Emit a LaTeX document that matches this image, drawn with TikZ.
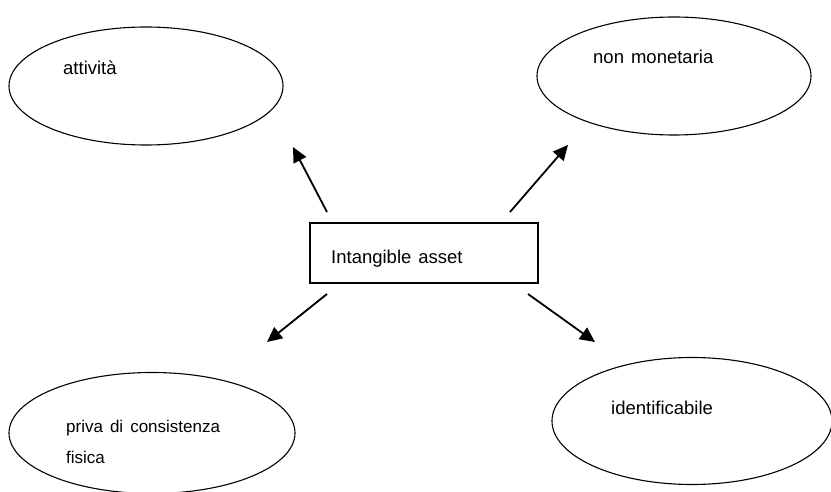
\documentclass[tikz,border=0pt]{standalone}
\usepackage{fontspec}
\setmainfont{Liberation Sans}
\usetikzlibrary{arrows.meta,shapes.geometric}
\newcommand\wordgap{\spaceskip=7pt\relax}

\begin{document}
\begin{tikzpicture}[x=1pt,y=-1pt,>={Triangle[length=15pt,width=14pt]},
      oval/.style={ellipse,draw,line width=1.1pt,inner sep=0pt},
      lbl/.style={anchor=base west,inner sep=0pt,font=\fontsize{18.5}{22}\selectfont\wordgap},
      smalllbl/.style={lbl,font=\fontsize{17}{20}\selectfont\wordgap}]
      \useasboundingbox (0,0) rectangle (831,492);
      % the four ovals
      \node[oval,minimum width=274pt,minimum height=118pt] (att) at (146,86) {};
      \node[oval,minimum width=274pt,minimum height=118pt] (nonmon) at (674,76) {};
      \node[oval,minimum width=286pt,minimum height=121pt] (priva) at (152,433) {};
      \node[oval,minimum width=280pt,minimum height=127pt] (ident) at (692,421) {};
      \node[lbl] (attlbl) at (63,75) {attività};
      \node[lbl] (nonmonlbl) at (593,64) {non monetaria};
      \node[smalllbl] (privalbl) at (66,432) {priva di consistenza};
      \node[smalllbl] (fisicalbl) at (66,463) {fisica};
      \node[lbl] (identlbl) at (611,414) {identificabile};
      % centre box
      \node[draw,line width=1.3pt,minimum width=228pt,minimum height=60pt,inner sep=0pt] (asset) at (424,253) {};
      \node[lbl] (assetlbl) at (331,263) {Intangible asset};
      % arrow ends
      \coordinate (ulfrom) at (327,212);
      \coordinate (ulto) at (293,147);
      \coordinate (urfrom) at (510,212);
      \coordinate (urto) at (568,145);
      \coordinate (llfrom) at (327,294);
      \coordinate (llto) at (267,342);
      \coordinate (lrfrom) at (528,294);
      \coordinate (lrto) at (595,342);
      \draw[->,line width=1.8pt] (ulfrom) -- (ulto);
      \draw[->,line width=1.8pt] (urfrom) -- (urto);
      \draw[->,line width=1.8pt] (llfrom) -- (llto);
      \draw[->,line width=1.8pt] (lrfrom) -- (lrto);
    \end{tikzpicture}
\end{document}
